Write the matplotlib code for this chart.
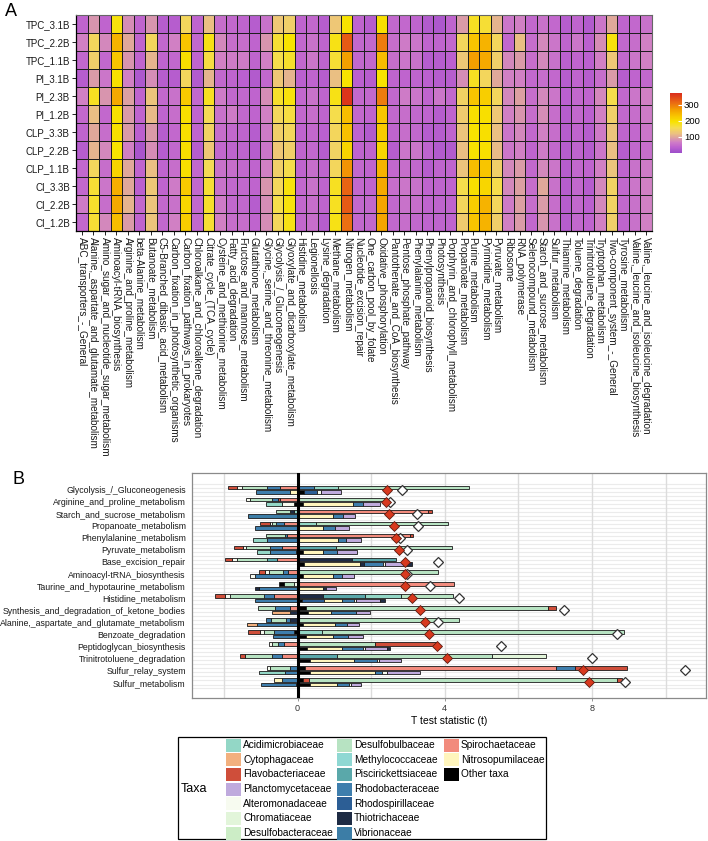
import numpy as np
import matplotlib
matplotlib.use("Agg")
import matplotlib.pyplot as plt
from matplotlib.colors import LinearSegmentedColormap, Normalize
from matplotlib.patches import Rectangle

plt.rcParams['font.family'] = ['Liberation Sans', 'DejaVu Sans']

# ---------------- panel A data ----------------
samples = ["TPC_3.1B", "TPC_2.2B", "TPC_1.1B", "PI_3.1B", "PI_2.3B", "PI_1.2B",
           "CLP_3.3B", "CLP_2.2B", "CLP_1.1B", "CI_3.3B", "CI_2.2B", "CI_1.2B"]

pathways = [
    "ABC_transporters_-_General", "Alanine,_aspartate_and_glutamate_metabolism",
    "Amino_sugar_and_nucleotide_sugar_metabolism", "Aminoacyl-tRNA_biosynthesis",
    "Arginine_and_proline_metabolism", "beta-Alanine_metabolism", "Butanoate_metabolism",
    "C5-Branched_dibasic_acid_metabolism", "Carbon_fixation_in_photosynthetic_organisms",
    "Carbon_fixation_pathways_in_prokaryotes", "Chloroalkane_and_chloroalkene_degradation",
    "Citrate_cycle_(TCA_cycle)", "Cysteine_and_methionine_metabolism", "Fatty_acid_degradation",
    "Fructose_and_mannose_metabolism", "Glutathione_metabolism",
    "Glycine,_serine_and_threonine_metabolism", "Glycolysis_/_Gluconeogenesis",
    "Glyoxylate_and_dicarboxylate_metabolism", "Histidine_metabolism", "Legionellosis",
    "Lysine_degradation", "Methane_metabolism", "Nitrogen_metabolism",
    "Nucleotide_excision_repair", "One_carbon_pool_by_folate", "Oxidative_phosphorylation",
    "Pantothenate_and_CoA_biosynthesis", "Pentose_phosphate_pathway",
    "Phenylalanine_metabolism", "Phenylpropanoid_biosynthesis", "Photosynthesis",
    "Porphyrin_and_chlorophyll_metabolism", "Propanoate_metabolism", "Purine_metabolism",
    "Pyrimidine_metabolism", "Pyruvate_metabolism", "Ribosome", "RNA_polymerase",
    "Selenocompound_metabolism", "Starch_and_sucrose_metabolism", "Sulfur_metabolism",
    "Thiamine_metabolism", "Toluene_degradation", "Trinitrotoluene_degradation",
    "Tryptophan_metabolism", "Two-component_system_-_General", "Tyrosine_metabolism",
    "Valine,_leucine_and_isoleucine_biosynthesis", "Valine,_leucine_and_isoleucine_degradation"]

# one list per pathway, values for the samples top -> bottom
abundance = [
    [40, 70, 45, 30, 70, 45, 40, 30, 45, 45, 65, 45],
    [85, 150, 140, 90, 180, 120, 100, 110, 150, 170, 175, 170],
    [40, 75, 45, 60, 85, 45, 50, 75, 50, 60, 50, 75],
    [190, 250, 230, 200, 260, 200, 200, 195, 215, 255, 260, 240],
    [80, 100, 85, 70, 95, 90, 90, 70, 100, 100, 110, 90],
    [40, 40, 40, 20, 40, 40, 35, 15, 40, 35, 45, 40],
    [85, 150, 110, 80, 125, 115, 90, 80, 120, 130, 125, 125],
    [30, 45, 40, 30, 45, 40, 30, 30, 40, 40, 45, 45],
    [30, 70, 45, 30, 55, 50, 45, 45, 50, 65, 55, 70],
    [150, 230, 200, 150, 225, 200, 200, 200, 200, 225, 210, 220],
    [40, 45, 40, 25, 45, 40, 40, 30, 45, 45, 45, 45],
    [120, 185, 165, 110, 180, 155, 145, 130, 155, 170, 175, 170],
    [50, 75, 70, 45, 65, 55, 50, 45, 55, 55, 65, 70],
    [45, 50, 65, 40, 45, 65, 45, 40, 50, 45, 45, 50],
    [40, 50, 65, 35, 45, 45, 40, 40, 45, 45, 45, 50],
    [30, 40, 40, 25, 40, 40, 30, 30, 40, 40, 30, 40],
    [55, 85, 70, 45, 80, 70, 65, 60, 70, 85, 80, 80],
    [130, 170, 160, 130, 175, 150, 140, 130, 140, 150, 160, 150],
    [140, 195, 175, 110, 190, 165, 150, 140, 160, 190, 190, 185],
    [40, 45, 45, 35, 45, 45, 40, 40, 40, 45, 45, 45],
    [45, 55, 60, 40, 55, 50, 45, 45, 50, 55, 50, 50],
    [30, 40, 40, 30, 40, 40, 35, 30, 40, 40, 40, 30],
    [130, 185, 170, 120, 185, 160, 150, 145, 150, 180, 180, 185],
    [195, 330, 270, 195, 365, 240, 235, 215, 280, 320, 330, 310],
    [40, 45, 45, 35, 45, 45, 40, 40, 45, 45, 45, 45],
    [30, 45, 45, 30, 45, 40, 25, 40, 40, 40, 45, 45],
    [200, 300, 240, 195, 300, 230, 225, 210, 250, 260, 265, 265],
    [45, 50, 50, 40, 45, 45, 40, 30, 45, 50, 45, 45],
    [45, 65, 60, 40, 65, 50, 50, 60, 50, 60, 55, 50],
    [40, 60, 55, 40, 60, 45, 45, 60, 45, 55, 50, 45],
    [25, 40, 30, 35, 40, 40, 30, 40, 30, 40, 40, 40],
    [20, 40, 30, 30, 60, 30, 30, 25, 40, 40, 40, 40],
    [40, 45, 35, 30, 45, 40, 40, 25, 40, 40, 40, 40],
    [90, 150, 130, 80, 145, 135, 125, 120, 125, 160, 150, 135],
    [180, 230, 270, 180, 230, 200, 195, 195, 240, 200, 220, 230],
    [170, 250, 260, 150, 220, 200, 200, 200, 230, 210, 250, 250],
    [110, 150, 140, 100, 150, 130, 120, 115, 140, 160, 150, 140],
    [60, 45, 75, 70, 75, 70, 60, 60, 75, 75, 65, 70],
    [70, 120, 90, 70, 95, 85, 75, 70, 90, 95, 95, 90],
    [45, 50, 50, 45, 50, 50, 45, 40, 45, 50, 50, 45],
    [55, 75, 75, 50, 75, 80, 70, 65, 75, 100, 90, 85],
    [45, 60, 55, 45, 60, 50, 50, 45, 60, 55, 50, 55],
    [30, 40, 35, 30, 35, 30, 30, 30, 30, 30, 30, 30],
    [40, 60, 40, 40, 45, 45, 40, 40, 45, 45, 45, 45],
    [25, 35, 35, 30, 40, 35, 30, 30, 40, 30, 35, 40],
    [60, 80, 70, 50, 75, 70, 65, 60, 70, 75, 75, 70],
    [100, 190, 130, 90, 160, 140, 125, 120, 125, 145, 145, 140],
    [40, 45, 45, 30, 45, 45, 40, 30, 40, 45, 45, 40],
    [45, 50, 60, 40, 60, 50, 45, 45, 55, 60, 55, 55],
    [55, 70, 70, 45, 70, 65, 60, 50, 65, 70, 70, 70]]

cbar_ticks = [100, 200, 300]

# ---------------- panel B data ----------------
taxa = ["Acidimicrobiaceae", "Cytophagaceae", "Flavobacteriaceae", "Planctomycetaceae",
        "Alteromonadaceae", "Chromatiaceae", "Desulfobacteraceae", "Desulfobulbaceae",
        "Methylococcaceae", "Piscirickettsiaceae", "Rhodobacteraceae", "Rhodospirillaceae",
        "Thiotrichaceae", "Vibrionaceae", "Spirochaetaceae", "Nitrosopumilaceae", "Other taxa"]
taxa_codes = ["Aci", "Cyt", "Fla", "Pla", "Alt", "Chr", "Dsb", "Dbb",
              "Met", "Pis", "Rba", "Rsp", "Thi", "Vib", "Spi", "Nit", "Oth"]
taxa_colors = ["#93D7C6", "#F2B07E", "#CF4E3A", "#BFAADD", "#F7FBF0", "#E2F5DA",
               "#CCEDC6", "#B7E3C2", "#8FD8D3", "#5AA8AA", "#3E7EAD", "#2C5E95",
               "#1E2B44", "#3C7DA6", "#F28B7D", "#FFF5BD", "#000000"]

functions = ["Glycolysis_/_Gluconeogenesis", "Arginine_and_proline_metabolism",
             "Starch_and_sucrose_metabolism", "Propanoate_metabolism",
             "Phenylalanine_metabolism", "Pyruvate_metabolism", "Base_excision_repair",
             "Aminoacyl-tRNA_biosynthesis", "Taurine_and_hypotaurine_metabolism",
             "Histidine_metabolism", "Synthesis_and_degradation_of_ketone_bodies",
             "Alanine,_aspartate_and_glutamate_metabolism", "Benzoate_degradation",
             "Peptidoglycan_biosynthesis", "Trinitrotoluene_degradation",
             "Sulfur_relay_system", "Sulfur_metabolism"]

# contributions, listed from zero outwards
upper_pos = [
    [("Rba", 0.45), ("Aci", 0.64), ("Dbb", 3.58)],
    [("Dbb", 2.43)],
    [("Spi", 3.55), ("Fla", 0.1)],
    [("Aci", 0.5), ("Dbb", 3.6)],
    [("Spi", 3.05), ("Fla", 0.09)],
    [("Pis", 1.05), ("Dbb", 3.15)],
    [("Thi", 1.48), ("Pis", 1.2)],
    [("Dbb", 3.81)],
    [("Spi", 4.26)],
    [("Thi", 0.7), ("Pis", 1.14), ("Aci", 0.96), ("Dbb", 1.43)],
    [("Oth", 0.23), ("Dbb", 6.57), ("Fla", 0.23)],
    [("Dbb", 4.4)],
    [("Aci", 0.65), ("Dbb", 8.22)],
    [("Dbb", 2.1), ("Fla", 1.7)],
    [("Pis", 1.07), ("Dbb", 4.21), ("Chr", 1.48)],
    [("Oth", 0.2), ("Spi", 6.83), ("Rba", 0.52), ("Fla", 1.41)],
    [("Oth", 0.15), ("Fla", 0.15), ("Dbb", 8.37), ("Fla", 0.15)]]
upper_neg = [
    [("Spi", 0.48), ("Rba", 0.36), ("Dbb", 0.68), ("Alt", 0.14), ("Fla", 0.24)],
    [("Spi", 0.47), ("Fla", 0.07), ("Rba", 0.15), ("Dbb", 0.6), ("Alt", 0.11)],
    [("Aci", 0.1), ("Thi", 0.1), ("Dbb", 0.4)],
    [("Spi", 0.38), ("Rba", 0.2), ("Dbb", 0.12), ("Alt", 0.06), ("Fla", 0.26)],
    [("Spi", 0.3), ("Rba", 0.05), ("Dbb", 0.5)],
    [("Spi", 0.43), ("Rba", 0.32), ("Dbb", 0.64), ("Alt", 0.09), ("Fla", 0.25)],
    [("Spi", 0.56), ("Pis", 0.27), ("Dbb", 0.82), ("Alt", 0.14), ("Fla", 0.18)],
    [("Spi", 0.25), ("Rba", 0.14), ("Dbb", 0.38), ("Alt", 0.12), ("Fla", 0.15)],
    [("Alt", 0.1), ("Dbb", 0.27), ("Oth", 0.14)],
    [("Spi", 0.64), ("Rba", 0.27), ("Dbb", 0.93), ("Alt", 0.14), ("Fla", 0.27)],
    [("Spi", 0.2), ("Rba", 0.41), ("Dbb", 0.47)],
    [("Thi", 0.2), ("Rba", 0.11), ("Dbb", 0.41), ("Rba", 0.14)],
    [("Oth", 0.1), ("Rba", 0.55), ("Dbb", 0.27), ("Alt", 0.1), ("Fla", 0.32)],
    [("Spi", 0.38), ("Rba", 0.14), ("Dbb", 0.18), ("Alt", 0.09)],
    [("Spi", 0.43), ("Rba", 0.27), ("Dbb", 0.72), ("Fla", 0.14)],
    [("Rba", 0.2), ("Dbb", 0.55), ("Alt", 0.08)],
    [("Rba", 0.43), ("Nit", 0.21)]]
lower_pos = [
    [("Oth", 0.18), ("Rsp", 0.36), ("Alt", 0.09), ("Pla", 0.55)],
    [("Oth", 0.15), ("Nit", 1.36), ("Rba", 0.27), ("Pla", 0.46)],
    [("Oth", 0.05), ("Nit", 0.9), ("Rba", 0.28), ("Pla", 0.34)],
    [("Nit", 0.7), ("Rba", 0.32), ("Pla", 0.39)],
    [("Nit", 1.1), ("Rba", 0.22), ("Pla", 0.41)],
    [("Oth", 0.15), ("Nit", 0.55), ("Rba", 0.36), ("Pla", 0.55)],
    [("Oth", 0.18), ("Nit", 1.52), ("Thi", 0.1), ("Rba", 0.53), ("Alt", 0.05), ("Pla", 0.54), ("Thi", 0.18)],
    [("Oth", 0.15), ("Nit", 0.82), ("Rba", 0.23), ("Pla", 0.32)],
    [("Nit", 0.7), ("Thi", 0.07), ("Pla", 0.27)],
    [("Oth", 0.12), ("Rsp", 0.6), ("Nit", 0.5), ("Rba", 0.3), ("Alt", 0.08), ("Pla", 0.65), ("Thi", 0.13)],
    [("Oth", 0.27), ("Nit", 0.64), ("Rba", 0.68), ("Pla", 0.38)],
    [("Oth", 0.15), ("Nit", 0.86), ("Rba", 0.32), ("Pla", 0.34)],
    [("Oth", 0.23), ("Nit", 0.73), ("Rba", 0.41), ("Pla", 0.41)],
    [("Oth", 0.25), ("Nit", 0.96), ("Rba", 0.57), ("Alt", 0.06), ("Pla", 0.59), ("Thi", 0.09)],
    [("Oth", 0.34), ("Nit", 1.18), ("Rba", 0.63), ("Alt", 0.05), ("Pla", 0.6)],
    [("Oth", 0.34), ("Nit", 1.76), ("Rba", 0.19), ("Alt", 0.14), ("Pla", 0.9)],
    [("Oth", 0.34), ("Nit", 0.73), ("Rba", 0.33), ("Alt", 0.05), ("Pla", 0.28)]]
lower_neg = [
    [("Nit", 0.2), ("Rba", 0.93)],
    [("Oth", 0.1), ("Alt", 0.32), ("Aci", 0.45)],
    [("Vib", 1.34)],
    [("Rba", 1.16)],
    [("Rba", 0.84), ("Aci", 0.36)],
    [("Oth", 0.05), ("Rba", 0.7), ("Aci", 0.36)],
    [],
    [("Rba", 1.16), ("Alt", 0.14)],
    [("Rba", 1.06), ("Thi", 0.11)],
    [("Rba", 1.16)],
    [("Thi", 0.2), ("Cyt", 0.5)],
    [("Rba", 1.11), ("Cyt", 0.27)],
    [("Rba", 0.68)],
    [],
    [],
    [("Rba", 0.34), ("Aci", 0.7)],
    [("Oth", 0.05), ("Rba", 0.95)]]

shift_observed = [2.43, 2.41, 2.48, 2.63, 2.68, 2.75, 2.91, 2.91, 2.93, 3.11, 3.34,
                  3.46, 3.57, 3.8, 4.07, 7.76, 7.91]
shift_predicted = [2.85, 2.52, 3.25, 3.28, 2.78, 2.96, 3.82, 2.96, 3.6, 4.38, 7.23,
                   3.82, 8.67, 5.53, 8.0, 10.53, 8.91]


def taxonColor(code):
    return taxa_colors[taxa_codes.index(code)]


fig = plt.figure(figsize=(7.08, 8.41), dpi=100)
W, H = 708.0, 841.0

# ---------------- panel A ----------------
heat = np.array(abundance).T
cmap = LinearSegmentedColormap.from_list("abund", [
    (0.0, "#9B4DCA"), (0.1, "#BE62CF"), (0.18, "#D07EC6"), (0.25, "#DCA0A2"),
    (0.32, "#EBC082"), (0.42, "#F5DC52"), (0.52, "#F8E300"), (0.62, "#F8C400"),
    (0.72, "#F4A000"), (0.83, "#EB6E12"), (1.0, "#DA2C1C")])
norm = Normalize(vmin=0, vmax=375)

axA = fig.add_axes([76 / W, 1 - 231 / H, 576 / W, 216 / H])
mesh = axA.pcolormesh(heat, cmap=cmap, norm=norm, edgecolors="#1e1e1e", linewidth=0.7)
axA.set_xlim(0, len(pathways))
axA.set_ylim(len(samples), 0)
axA.set_xticks(np.arange(len(pathways)) + 0.5)
axA.set_xticklabels(pathways, rotation=270, fontsize=7.2, color="#1a1a1a")
axA.set_yticks(np.arange(len(samples)) + 0.5)
axA.set_yticklabels(samples, fontsize=7, color="#1a1a1a")
axA.tick_params(length=3, width=0.6, pad=1.5)
for s in ["top", "right"]:
    axA.spines[s].set_color("#666666")
for s in ["left", "bottom"]:
    axA.spines[s].set_color("black")
    axA.spines[s].set_linewidth(0.9)

cax = fig.add_axes([670 / W, 1 - 153 / H, 12 / W, 60 / H])
cb = fig.colorbar(mesh, cax=cax, ticks=cbar_ticks)
cb.outline.set_visible(False)
cax.tick_params(length=3, width=0.8, color="white", direction="in", labelsize=6.8, pad=1.5)

fig.text(5 / W, 1 - 11 / H, "A", fontsize=13, va="center", ha="left")
fig.text(12 / W, 1 - 480 / H, "B", fontsize=13, va="center", ha="left")

# ---------------- panel B ----------------
axB = fig.add_axes([192 / W, 1 - 698 / H, 514 / W, 225 / H])
n = len(functions)
off, bh = 0.18, 0.28

for i in range(n):
    for yy in (i - off, i + off, i + 0.5):
        axB.axhline(yy, color="#EBEBEB", lw=0.8, zorder=0)
    if i == 0:
        axB.axhline(-0.5, color="#EBEBEB", lw=0.8, zorder=0)
for xv in [-2, 2, 4, 6, 8, 10]:
    axB.axvline(xv, color="#DCDCDC", lw=1.0, zorder=0)

def drawStack(y, segs, sign):
    start = 0.0
    for code, w in segs:
        axB.barh(y, sign * w, left=start, height=bh, color=taxonColor(code),
                 edgecolor="#1a1a1a", linewidth=0.6, zorder=2)
        start += sign * w

for i in range(n):
    drawStack(i - off, upper_pos[i], 1)
    drawStack(i - off, upper_neg[i], -1)
    drawStack(i + off, lower_pos[i], 1)
    drawStack(i + off, lower_neg[i], -1)

axB.axvline(0, color="black", lw=2.2, zorder=3)
ypos = np.arange(n)
axB.plot(shift_predicted, ypos, ls="none", marker="D", ms=5.4, mfc="white",
         mec="#333333", mew=0.9, zorder=4)
axB.plot(shift_observed, ypos, ls="none", marker="D", ms=4.9, mfc="#D8391E",
         mec="#5a1a10", mew=0.6, zorder=5)

axB.set_xlim(-2.87, 11.1)
axB.set_ylim(17.3, -1.39)
axB.set_xticks([0, 4, 8])
axB.tick_params(axis="x", length=2, width=0.6, color="#888888", labelsize=6.5,
                labelcolor="#333333", pad=2)
axB.set_yticks(ypos)
axB.set_yticklabels(functions, fontsize=6.3, color="#1a1a1a")
axB.tick_params(axis="y", length=0, pad=4.5)
axB.set_xlabel("T test statistic (t)", fontsize=7.5, labelpad=2.5)
for s in axB.spines.values():
    s.set_color("#8a8a8a")
    s.set_linewidth(0.9)

# ---------------- legend (ggplot style, 7 keys per column) ----------------
axL = fig.add_axes([0, 0, 1, 1], facecolor="none")
axL.set_xlim(0, W)
axL.set_ylim(H, 0)
axL.axis("off")
axL.add_patch(Rectangle((178, 737), 368, 102, fill=False, edgecolor="black", linewidth=0.9))
axL.text(181, 789, "Taxa", fontsize=9, va="center", ha="left")
key_x = [226, 337, 444]
for k, (name, col) in enumerate(zip(taxa, taxa_colors)):
    c, r = divmod(k, 7)
    yc = 745 + 14.67 * r
    axL.add_patch(Rectangle((key_x[c], yc - 6.5), 14.5, 13, facecolor=col, edgecolor="none"))
    axL.text(key_x[c] + 17, yc, name, fontsize=7.3, va="center", ha="left")

fig.savefig("out.png", dpi=100)
